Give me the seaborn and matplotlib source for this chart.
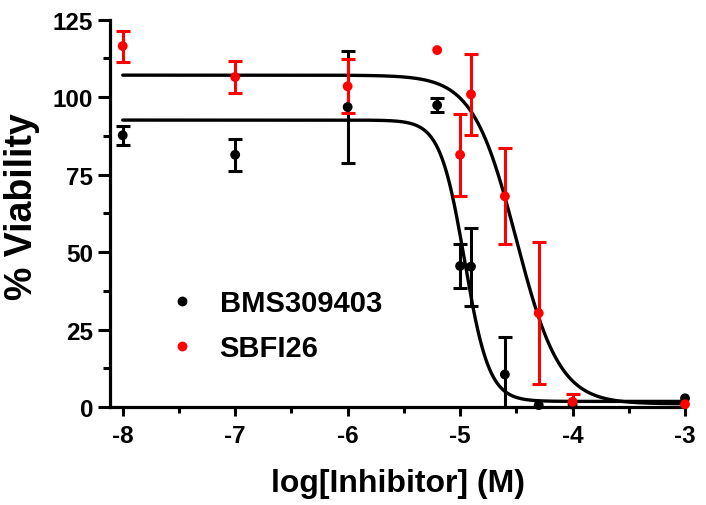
import numpy as np
import pandas as pd
import matplotlib
matplotlib.use("Agg")
import matplotlib.pyplot as plt
import seaborn as sns
from matplotlib.ticker import MultipleLocator, FixedLocator

# ---- data ----
compounds = ["BMS309403", "SBFI26"]
colors = {"BMS309403": "black", "SBFI26": "#ff0000"}

log_conc_bms = [-8.0, -7.0, -6.0, -5.204, -5.0, -4.903, -4.602, -4.301, -4.0, -3.0]
via_bms = [87.7, 81.4, 96.8, 97.4, 45.5, 45.3, 10.5, 0.6, 0.8, 2.8]
err_bms = [3.0, 5.1, 18.0, 2.3, 7.0, 12.6, 12.0, np.nan, np.nan, np.nan]

log_conc_sbfi = [-8.0, -7.0, -6.0, -5.204, -5.0, -4.903, -4.602, -4.301, -4.0, -3.0]
via_sbfi = [116.5, 106.5, 103.5, 115.2, 81.4, 100.9, 68.0, 30.3, 1.7, 0.9]
err_sbfi = [5.0, 5.3, 8.7, np.nan, 13.2, 13.0, 15.5, 23.0, 2.5, np.nan]

# fitted 4-parameter logistic parameters: top, bottom, logIC50, hill
fit_bms = (92.6, 1.8, -4.96, 4.0)
fit_sbfi = (107.1, 1.0, -4.50, 2.25)

x_ticks = [-8, -7, -6, -5, -4, -3]
x_tick_labels = ["-8", "-7", "-6", "-5", "-4", "-3"]
y_ticks = [0, 25, 50, 75, 100, 125]


def four_pl(x, top, bottom, logic50, hill):
    return bottom + (top - bottom) / (1 + 10 ** ((x - logic50) * hill))


# ---- style ----
sns.set_style("ticks")
plt.rcParams["font.family"] = ["Liberation Sans", "DejaVu Sans"]
plt.rcParams["font.weight"] = "bold"
plt.rcParams["axes.unicode_minus"] = False
for key in ("text.color", "axes.labelcolor", "xtick.color", "ytick.color",
            "axes.edgecolor"):
    plt.rcParams[key] = "black"

fig = plt.figure(figsize=(7.06, 5.06), dpi=100)
ax = fig.add_axes([0.1558, 0.1937, 0.8145, 0.7654])

# fitted curves
xc = np.linspace(-8.0, -3.0, 600)
curves = pd.concat([
    pd.DataFrame({"logc": xc, "via": four_pl(xc, *fit_bms), "compound": "BMS309403"}),
    pd.DataFrame({"logc": xc, "via": four_pl(xc, *fit_sbfi), "compound": "SBFI26"}),
])
sns.lineplot(data=curves, x="logc", y="via", units="compound", estimator=None,
             color="black", linewidth=2.4, legend=False, ax=ax, zorder=2, sort=False)

# error bars
ax.errorbar(log_conc_bms, via_bms, yerr=err_bms, fmt="none", ecolor="black",
            elinewidth=2.2, capsize=4.8, capthick=2.2, zorder=3)
ax.errorbar(log_conc_sbfi, via_sbfi, yerr=err_sbfi, fmt="none", ecolor="#ff0000",
            elinewidth=2.2, capsize=4.8, capthick=2.2, zorder=4)

# points
pts = pd.concat([
    pd.DataFrame({"logc": log_conc_bms, "via": via_bms, "compound": "BMS309403"}),
    pd.DataFrame({"logc": log_conc_sbfi, "via": via_sbfi, "compound": "SBFI26"}),
])
sns.scatterplot(data=pts, x="logc", y="via", hue="compound", hue_order=compounds,
                palette=colors, s=50, linewidth=0, ax=ax, zorder=5, clip_on=False)

# axes
ax.set_xlim(-8.113, -3.0)
ax.set_ylim(0, 125)
ax.xaxis.set_major_locator(FixedLocator(x_ticks))
ax.set_xticklabels(x_tick_labels)
ax.xaxis.set_minor_locator(MultipleLocator(0.5))
ax.yaxis.set_major_locator(FixedLocator(y_ticks))
ax.yaxis.set_minor_locator(MultipleLocator(12.5))
sns.despine(ax=ax)
for s in ("left", "bottom"):
    ax.spines[s].set_linewidth(2.3)
    ax.spines[s].set_color("black")
ax.tick_params(axis="x", which="major", length=6.5, width=2.2, pad=6,
               labelsize=17.5, colors="black")
ax.tick_params(axis="x", which="minor", length=4.5, width=2.2, colors="black")
ax.tick_params(axis="y", which="major", length=9, width=2.2, pad=3,
               labelsize=17.5, colors="black")
ax.tick_params(axis="y", which="minor", length=5, width=2.2, colors="black")
for lab in ax.get_xticklabels() + ax.get_yticklabels():
    lab.set_fontweight("bold")

ax.set_ylabel("% Viability", fontsize=27, fontweight="bold", color="black")
ax.yaxis.set_label_coords(-0.122, 0.52)
ax.set_xlabel("log[Inhibitor] (M)", fontsize=23, fontweight="bold", labelpad=15,
              color="black")

handles, labels = ax.get_legend_handles_labels()
leg = ax.legend(handles, labels, loc="upper left", bbox_to_anchor=(0.084, 0.342),
                frameon=False, borderpad=0, handlelength=0.6, handletextpad=1.0,
                labelspacing=0.59, prop={"size": 21, "weight": "bold"},
                markerscale=1.0)
for t in leg.get_texts():
    t.set_color("black")

fig.savefig("out.png", dpi=100)
